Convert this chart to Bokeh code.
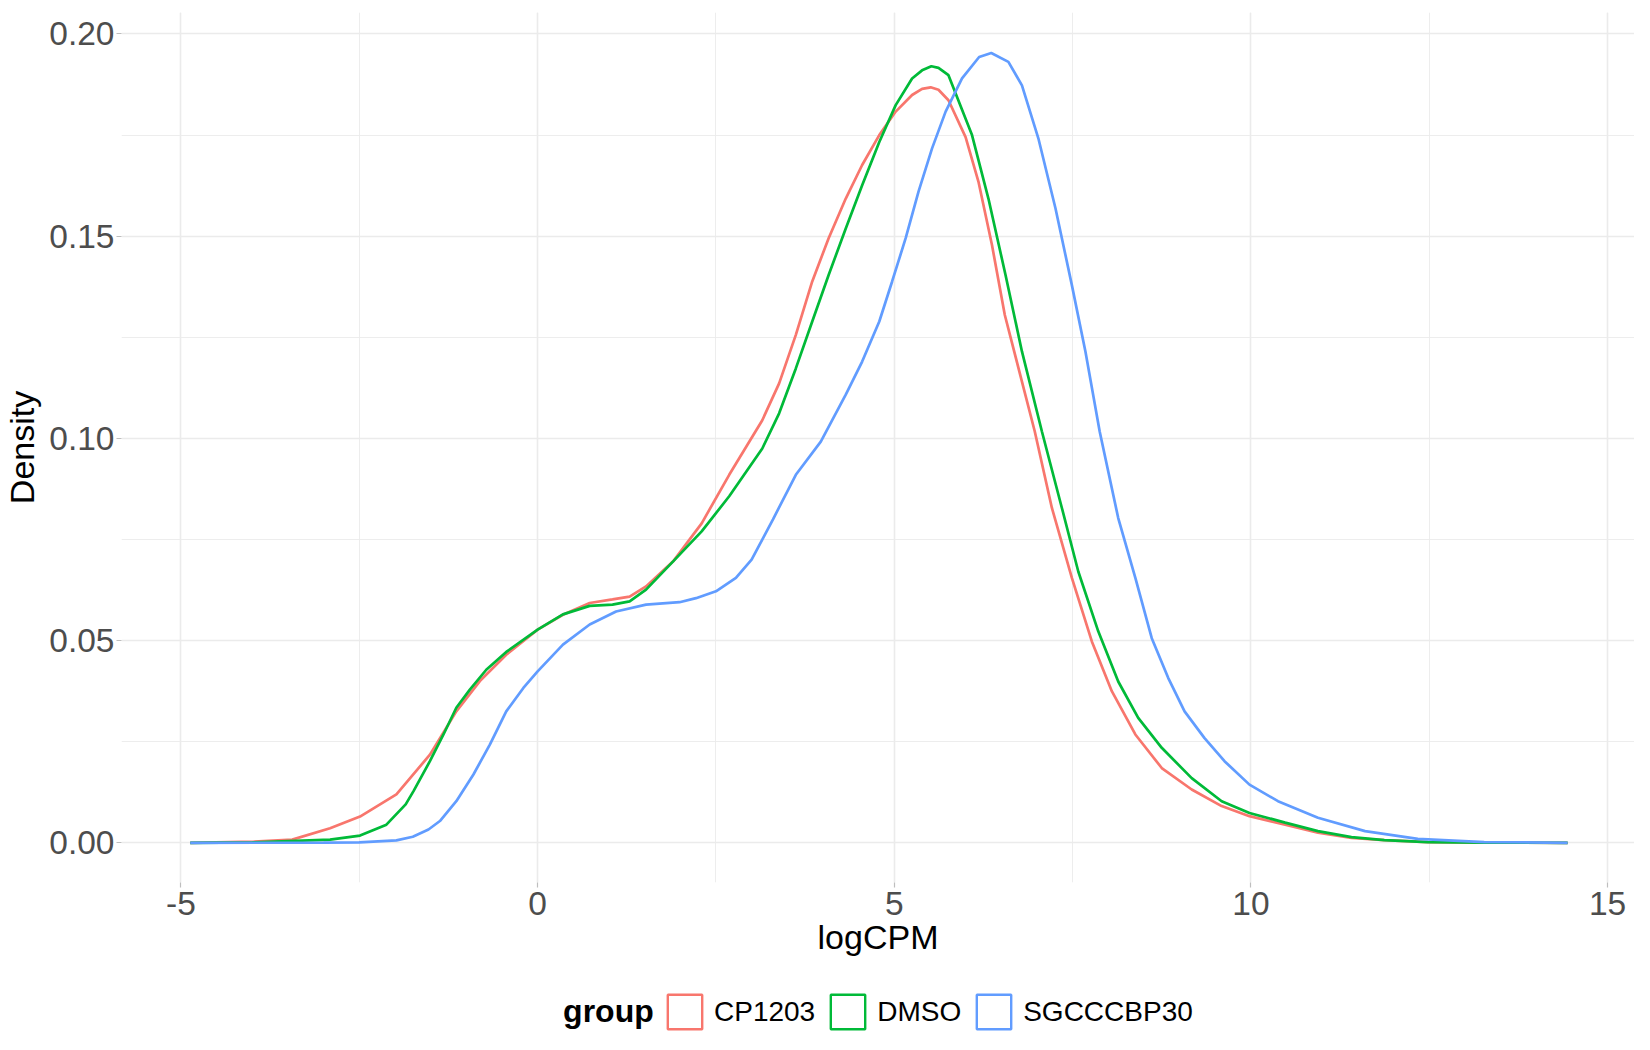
from bokeh.plotting import figure
from bokeh.layouts import column
from bokeh.models import (Range1d, SingleIntervalTicker, PrintfTickFormatter,
                          Legend, LegendItem, Label)
from bokeh.embed import file_html
from bokeh.resources import INLINE

FONT = "Liberation Sans"

legend_title = "group"
groups = ["CP1203", "DMSO", "SGCCCBP30"]
colors = ["#F8766D", "#00BA38", "#619CFF"]

cp1203_x = [-4.87, -3.98, -3.44, -2.91, -2.49, -1.98, -1.51, -1.14, -0.81, -0.44,
            0.0, 0.355, 0.73, 1.05, 1.29, 1.52, 1.9, 2.3, 2.686, 3.15,
            3.386, 3.62, 3.85, 4.08, 4.32, 4.55, 4.79, 5.02, 5.25, 5.39,
            5.51, 5.62, 5.76, 6.0, 6.18, 6.37, 6.55, 6.97, 7.21, 7.49,
            7.77, 8.05, 8.38, 8.75, 9.17, 9.59, 9.98, 10.48, 10.94, 11.41,
            11.87, 12.48, 13.3, 14.44]
cp1203_y = [0.0, 0.0003, 0.0008, 0.0036, 0.0065, 0.012, 0.0218, 0.0325, 0.040, 0.0465,
            0.0527, 0.0564, 0.0593, 0.0602, 0.0609, 0.0634, 0.0696, 0.079, 0.091, 0.1045,
            0.1136, 0.1256, 0.1388, 0.1495, 0.1593, 0.1676, 0.175, 0.1808, 0.1849, 0.1864,
            0.1868, 0.1862, 0.1836, 0.1745, 0.1635, 0.1478, 0.1305, 0.1017, 0.0828, 0.0655,
            0.0498, 0.0375, 0.0268, 0.0185, 0.0132, 0.0091, 0.0066, 0.0045, 0.0025, 0.0012,
            0.0007, 0.0002, 0.00005, 0.0]

dmso_x = [-4.87, -4.0, -2.91, -2.49, -2.12, -1.85, -1.74, -1.51, -1.32, -1.14,
          -0.95, -0.72, -0.44, 0.0, 0.355, 0.73, 1.05, 1.29, 1.52, 1.9,
          2.3, 2.686, 3.15, 3.386, 3.62, 3.85, 4.08, 4.32, 4.55, 4.79,
          5.02, 5.25, 5.39, 5.52, 5.62, 5.76, 6.09, 6.32, 6.56, 6.79,
          7.07, 7.35, 7.58, 7.86, 8.14, 8.42, 8.75, 9.17, 9.59, 9.98,
          10.48, 10.94, 11.41, 11.87, 12.48, 13.3, 14.44]
dmso_y = [0.0, 0.0001, 0.0008, 0.0018, 0.0045, 0.0095, 0.0128, 0.0202, 0.0268, 0.0334,
          0.0379, 0.0428, 0.0472, 0.0527, 0.0565, 0.0586, 0.0589, 0.0597, 0.0626, 0.0696,
          0.077, 0.0857, 0.0975, 0.1062, 0.1173, 0.1289, 0.1404, 0.1519, 0.1626, 0.1733,
          0.1824, 0.189, 0.191, 0.192, 0.1916, 0.1898, 0.175, 0.1593, 0.1404, 0.1215,
          0.1017, 0.0828, 0.0671, 0.0523, 0.0399, 0.0309, 0.0235, 0.016, 0.0103, 0.0074,
          0.005, 0.0029, 0.0014, 0.0007, 0.0002, 0.00005, 0.0]

sgc_x = [-4.87, -3.0, -2.5, -1.98, -1.75, -1.53, -1.37, -1.14, -0.90, -0.67,
         -0.44, -0.2, 0.0, 0.355, 0.73, 1.1, 1.52, 1.99, 2.22, 2.5,
         2.78, 3.0, 3.3, 3.62, 3.97, 4.32, 4.55, 4.79, 4.97, 5.16,
         5.34, 5.53, 5.72, 5.95, 6.19, 6.36, 6.6, 6.79, 7.02, 7.26,
         7.49, 7.68, 7.88, 8.14, 8.38, 8.61, 8.84, 9.07, 9.35, 9.63,
         9.98, 10.38, 10.94, 11.6, 12.34, 13.27, 14.44]
sgc_y = [0.0, 0.00005, 0.0001, 0.0006, 0.0015, 0.0033, 0.0054, 0.0103, 0.0169, 0.0243,
         0.0325, 0.0383, 0.0424, 0.049, 0.054, 0.0572, 0.0589, 0.0595, 0.0605, 0.0622,
         0.0655, 0.070, 0.080, 0.091, 0.0992, 0.1108, 0.119, 0.1289, 0.1388, 0.1495,
         0.161, 0.1717, 0.1808, 0.189, 0.1943, 0.1953, 0.1931, 0.1873, 0.1742, 0.1569,
         0.1379, 0.1215, 0.1017, 0.0803, 0.0655, 0.0506, 0.0408, 0.0325, 0.0259, 0.0202,
         0.0144, 0.0103, 0.0062, 0.0029, 0.001, 0.0002, 0.0]

x_limits = (-5.834, 15.378)
y_limits = (-0.0098, 0.2053)

W = 1634
BORDER_LEFT = 118
FRAME_W = W - BORDER_LEFT
H_MAIN = 975
H_LEG = 59

p = figure(width=W, height=H_MAIN, output_backend="svg", toolbar_location=None,
           x_range=Range1d(*x_limits), y_range=Range1d(*y_limits),
           min_border_left=BORDER_LEFT, min_border_right=0, min_border_top=12,
           min_border_bottom=H_MAIN - 12 - 870)
p.outline_line_color = None
p.background_fill_color = "white"
p.border_fill_color = "white"

xt = SingleIntervalTicker(interval=5, num_minor_ticks=2)
yt = SingleIntervalTicker(interval=0.05, num_minor_ticks=2)
p.xaxis.ticker = xt
p.yaxis.ticker = yt
p.xgrid.ticker = xt
p.ygrid.ticker = yt

for g in (p.xgrid[0], p.ygrid[0]):
    g.grid_line_color = "#EBEBEB"
    g.grid_line_width = 1.6
    g.minor_grid_line_color = "#EBEBEB"
    g.minor_grid_line_width = 0.9

for ax in (p.xaxis[0], p.yaxis[0]):
    ax.axis_line_color = None
    ax.major_tick_line_color = "#BEBEBE"
    ax.major_tick_line_width = 1.2
    ax.major_tick_out = 5
    ax.major_tick_in = 0
    ax.minor_tick_line_color = None
    ax.major_label_text_font = FONT
    ax.major_label_text_font_size = "33.5px"
    ax.major_label_text_color = "#4D4D4D"
    ax.axis_label_text_font = FONT
    ax.axis_label_text_font_size = "34px"
    ax.axis_label_text_color = "black"
    ax.axis_label_text_font_style = "normal"

p.xaxis.axis_label = "logCPM"
p.yaxis.axis_label = "Density"
p.xaxis.formatter = PrintfTickFormatter(format="%d")
p.yaxis.formatter = PrintfTickFormatter(format="%.2f")
p.xaxis.major_label_standoff = 4
p.xaxis.axis_label_standoff = 0
p.yaxis.major_label_standoff = 2
p.yaxis.axis_label_standoff = 5

series = [(cp1203_x, cp1203_y), (dmso_x, dmso_y), (sgc_x, sgc_y)]
for (xs, ys), c in zip(series, colors):
    p.line(xs, ys, line_color=c, line_width=2.7)

# legend strip below the plot (its frame is aligned with the main frame)
leg = figure(width=W, height=H_LEG, output_backend="svg", toolbar_location=None,
             x_range=Range1d(0, FRAME_W), y_range=Range1d(0, H_LEG),
             min_border_left=BORDER_LEFT, min_border_right=0, min_border_top=0,
             min_border_bottom=0, x_axis_location=None, y_axis_location=None)
leg.grid.visible = False
leg.outline_line_color = None
leg.background_fill_color = "white"
leg.border_fill_color = "white"

nan = float("nan")
items = []
for g, c in zip(groups, colors):
    r = leg.quad(left=[nan], right=[nan], top=[nan], bottom=[nan], fill_color=None,
                 line_color=c, line_width=2.4)
    items.append(LegendItem(label=g, renderers=[r]))

legend = Legend(items=items, orientation="horizontal",
                location=(660 - BORDER_LEFT, 1),
                label_text_font=FONT, label_text_font_size="28px",
                label_text_color="black", label_standoff=8, spacing=11,
                glyph_width=43, glyph_height=43, padding=0, margin=0,
                border_line_color=None, background_fill_alpha=0)
leg.add_layout(legend, "center")

leg.add_layout(Label(x=560.5 - BORDER_LEFT, y=24, text=legend_title, text_font=FONT,
                     text_font_size="32px", text_font_style="bold",
                     text_color="black", text_baseline="middle",
                     text_align="left"))

layout = column(p, leg, spacing=0)
open("out.html", "w").write(file_html(layout, INLINE))
